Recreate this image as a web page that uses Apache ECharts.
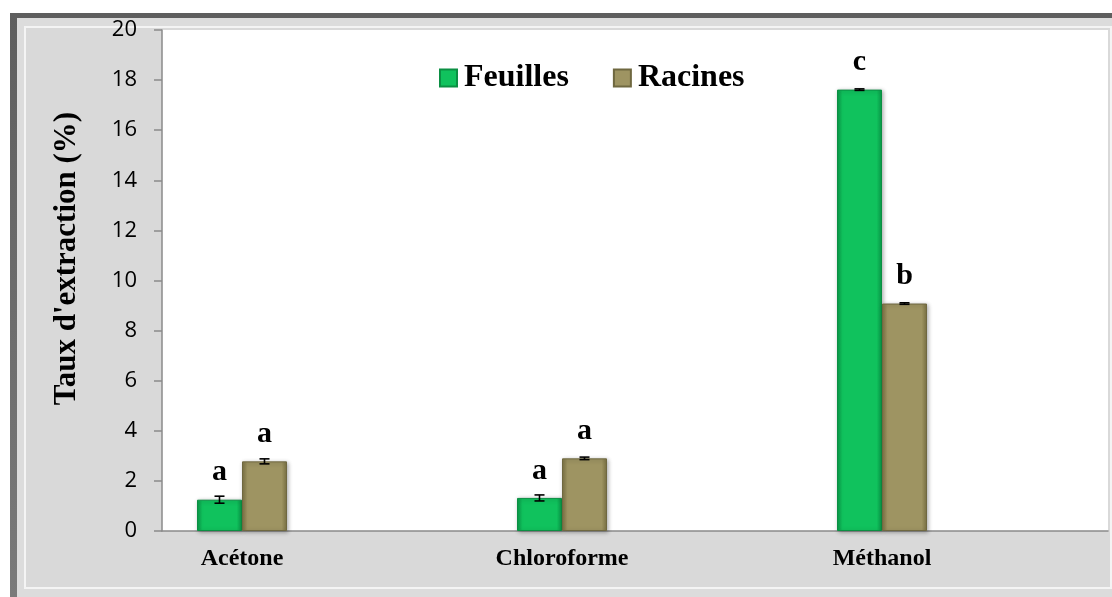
<!DOCTYPE html>
<html>
<head>
<meta charset="utf-8">
<script src="https://cdn.jsdelivr.net/npm/echarts@6/dist/echarts.min.js"></script>
<style>
html,body{margin:0;padding:0;background:#fff;}
#chart{width:1112px;height:597px;}
</style>
</head>
<body>
<div id="chart"></div>
<script>
const categories = ['Acétone', 'Chloroforme', 'Méthanol'];
const seriesNames = ['Feuilles', 'Racines'];
const feuilles = [1.25, 1.32, 17.62];
const racines = [2.78, 2.9, 9.08];
const feuillesErr = [0.14, 0.12, 0.03];
const racinesErr = [0.1, 0.05, 0.03];
const feuillesLetters = ['a', 'a', 'c'];
const racinesLetters = ['a', 'a', 'b'];
const yMin = 0, yMax = 20, yStep = 2;
const yTitle = "Taux d'extraction (%)";

const chart = echarts.init(document.getElementById('chart'), null, {renderer: 'canvas'});

const BAR_W = 45;
const serif = "'Liberation Serif', 'Times New Roman', serif";

function grad(edge, mid) {
  return new echarts.graphic.LinearGradient(0, 0, 1, 0, [
    {offset: 0, color: edge}, {offset: 0.12, color: mid},
    {offset: 0.88, color: mid}, {offset: 1, color: edge}
  ]);
}
const greenFill = grad('#0a9a48', '#10c25d');
const oliveFill = grad('#7c7344', '#9e9462');

function errSeries(vals, errs, side) {
  return {
    type: 'custom', xAxisIndex: 1, yAxisIndex: 1, z: 5,
    data: vals.map((v, i) => [i, v, errs[i]]),
    renderItem: function (params, api) {
      const i = api.value(0), v = api.value(1), e = api.value(2);
      const hi = api.coord([i, v + e]);
      const lo = api.coord([i, v - e]);
      const x = hi[0] + side * BAR_W / 2;
      const cw = 5;
      const st = {stroke: '#000', lineWidth: 1.6};
      return {type: 'group', children: [
        {type: 'line', shape: {x1: x, y1: hi[1], x2: x, y2: lo[1]}, style: st},
        {type: 'line', shape: {x1: x - cw, y1: hi[1], x2: x + cw, y2: hi[1]}, style: st},
        {type: 'line', shape: {x1: x - cw, y1: lo[1], x2: x + cw, y2: lo[1]}, style: st}
      ]};
    }
  };
}

function barSeries(name, vals, letters, fill, border) {
  return {
    name: name, type: 'bar', xAxisIndex: 1, yAxisIndex: 1,
    barWidth: BAR_W, barGap: '0%',
    data: vals,
    itemStyle: {color: fill, borderColor: border, borderWidth: 1,
      shadowColor: 'rgba(0,0,0,0.3)', shadowBlur: 4, shadowOffsetX: 1, shadowOffsetY: 1},
    label: {show: true, position: 'top', distance: 12,
      formatter: p => letters[p.dataIndex],
      fontFamily: serif, fontWeight: 'bold', fontSize: 30, color: '#000'}
  };
}

const option = {
  animation: false,
  backgroundColor: '#ffffff',
  graphic: [
    {type: 'rect', z: -100, shape: {x: 10, y: 13, width: 1102, height: 584},
      style: {fill: new echarts.graphic.LinearGradient(0, 0, 0, 1, [{offset: 0, color: '#5e5e5e'}, {offset: 1, color: '#7a7a7a'}])}},
    {type: 'rect', z: -99, shape: {x: 17, y: 18, width: 1095, height: 579}, style: {fill: '#dcdcdc'}},
    {type: 'rect', z: -98, shape: {x: 25, y: 27, width: 1086, height: 561},
      style: {fill: '#d9d9d9', stroke: '#f4f4f4', lineWidth: 2}}
  ],
  legend: {
    data: seriesNames, left: 434, top: 57, itemWidth: 17, itemHeight: 17, itemGap: 44,
    icon: 'rect',
    textStyle: {fontFamily: serif, fontWeight: 'bold', fontSize: 32, color: '#000', padding: [0, 0, 0, 2]}
  },
  grid: [
    {left: 162, top: 30, right: 4, bottom: 66, show: true, backgroundColor: '#ffffff', borderWidth: 0},
    {left: 82, top: 30, width: 960, bottom: 66, show: false}
  ],
  xAxis: [
    {type: 'value', gridIndex: 0, min: 0, max: 1,
      axisLine: {show: true, lineStyle: {color: '#8a8a8a', width: 1.5}},
      axisTick: {show: false}, axisLabel: {show: false}, splitLine: {show: false}},
    {type: 'category', gridIndex: 1, data: categories,
      axisLine: {show: false}, axisTick: {show: false},
      axisLabel: {margin: 16, fontFamily: serif, fontWeight: 'bold', fontSize: 24, color: '#000'}}
  ],
  yAxis: [
    {type: 'value', gridIndex: 0, min: yMin, max: yMax, interval: yStep,
      name: yTitle, nameLocation: 'middle', nameGap: 80,
      nameTextStyle: {fontFamily: serif, fontWeight: 'bold', fontSize: 31, color: '#000', padding: [0, 0, 0, 44]},
      axisLine: {show: true, lineStyle: {color: '#8a8a8a', width: 1.5}},
      axisTick: {show: true, inside: false, length: 8, lineStyle: {color: '#8a8a8a', width: 1.5}},
      axisLabel: {margin: 25, fontFamily: "'Open Sans', sans-serif", fontSize: 22, color: '#000'},
      splitLine: {show: false}},
    {type: 'value', gridIndex: 1, min: yMin, max: yMax, interval: yStep, show: false}
  ],
  series: [
    barSeries(seriesNames[0], feuilles, feuillesLetters, greenFill, '#0b8f43'),
    barSeries(seriesNames[1], racines, racinesLetters, oliveFill, '#6f6840'),
    errSeries(feuilles, feuillesErr, -1),
    errSeries(racines, racinesErr, 1)
  ]
};
chart.setOption(option);
</script>
</body>
</html>
